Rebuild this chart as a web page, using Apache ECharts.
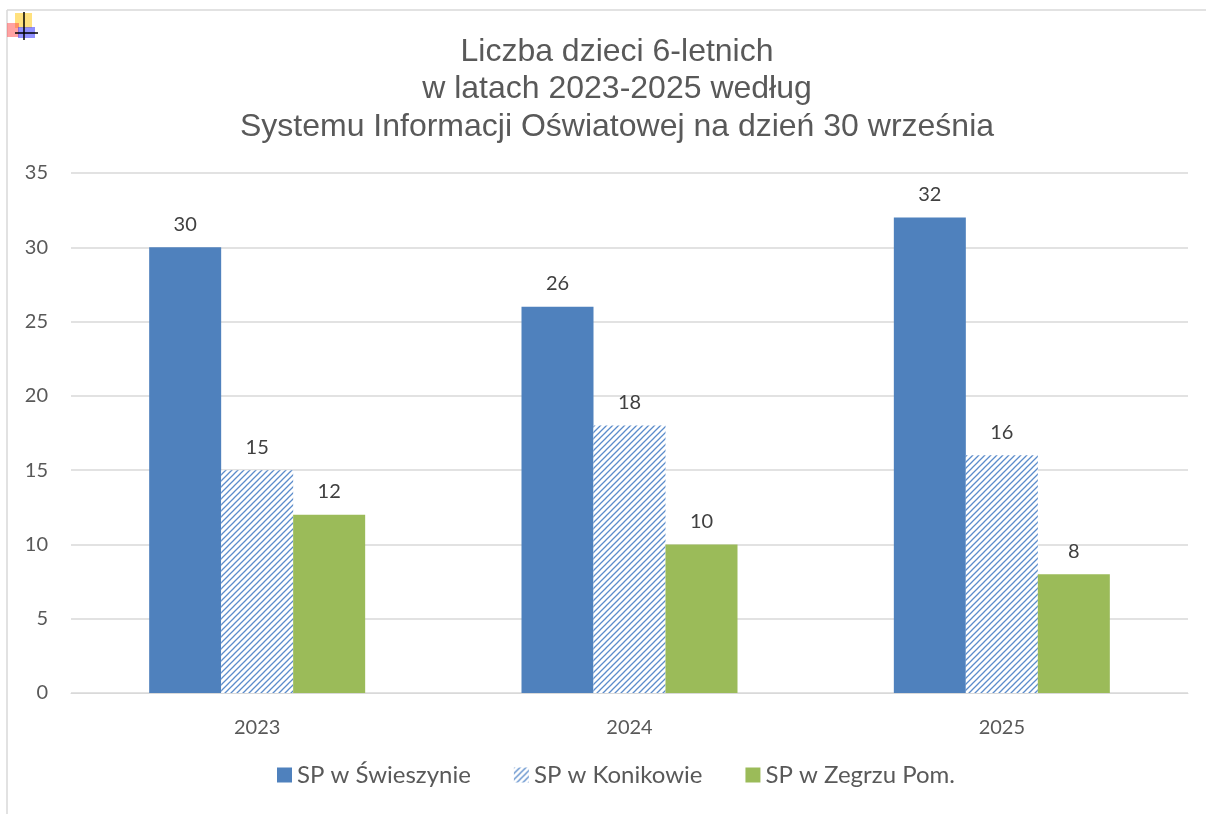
<!DOCTYPE html>
<html>
<head>
<meta charset="utf-8">
<script src="https://cdn.jsdelivr.net/npm/echarts@6/dist/echarts.min.js"></script>
<style>
  html, body { margin: 0; padding: 0; background: #fff; }
  #main { width: 1206px; height: 814px; }
</style>
</head>
<body>
<div id="main"></div>
<script>
// dane
var years = ['2023', '2024', '2025'];
var seriesNames = ['SP w Świeszynie', 'SP w Konikowie', 'SP w Zegrzu Pom.'];
var swieszyno = [30, 26, 32];
var konikowo = [15, 18, 16];
var zegrze = [12, 10, 8];

var myChart = echarts.init(document.getElementById('main'));

// kreskowanie dla drugiej serii
function hatch() {
  var c = document.createElement('canvas');
  c.width = 6;
  c.height = 6;
  var ctx = c.getContext('2d');
  ctx.fillStyle = '#ffffff';
  ctx.fillRect(0, 0, 6, 6);
  ctx.strokeStyle = '#5b8ccb';
  ctx.lineWidth = 1.3;
  ctx.beginPath();
  ctx.moveTo(-1, 7); ctx.lineTo(7, -1);
  ctx.moveTo(-1, 1); ctx.lineTo(1, -1);
  ctx.moveTo(5, 7); ctx.lineTo(7, 5);
  ctx.stroke();
  return c;
}
var hatchFill = { image: hatch(), repeat: 'repeat' };

var labelStyle = {
  show: true,
  position: 'top',
  distance: 13,
  color: '#404040',
  fontSize: 20,
  fontFamily: 'Lato'
};

var option = {
  backgroundColor: '#fff',
  animation: false,
  title: {
    text: 'Liczba dzieci 6-letnich\nw latach 2023-2025 według\nSystemu Informacji Oświatowej na dzień 30 września',
    left: 612,
    textAlign: 'center',
    top: 28,
    textStyle: {
      color: '#595959',
      fontSize: 32,
      fontWeight: 'normal',
      fontFamily: 'Liberation Sans',
      lineHeight: 37.5
    }
  },
  legend: {
    bottom: 22,
    left: 272,
    itemWidth: 15,
    itemHeight: 15,
    itemGap: 43,
    icon: 'rect',
    textStyle: { color: '#595959', fontSize: 24, fontFamily: 'Lato' },
    data: seriesNames
  },
  grid: { left: 71, right: 18, top: 173, bottom: 121 },
  xAxis: {
    type: 'category',
    data: years,
    axisLine: { lineStyle: { color: '#d9d9d9', width: 1 } },
    axisTick: { show: false },
    axisLabel: { color: '#595959', fontSize: 20, fontFamily: 'Lato', margin: 25 }
  },
  yAxis: {
    type: 'value',
    min: 0,
    max: 35,
    interval: 5,
    axisLine: { show: false },
    axisTick: { show: false },
    axisLabel: { color: '#595959', fontSize: 20, fontFamily: 'Lato', margin: 23 },
    splitLine: { lineStyle: { color: '#d9d9d9', width: 1.5 } }
  },
  series: [{
    name: seriesNames[0],
    type: 'bar',
    data: swieszyno,
    barWidth: 72,
    barGap: '0%',
    itemStyle: { color: '#4f81bd' },
    label: labelStyle
  }, {
    name: seriesNames[1],
    type: 'bar',
    data: konikowo,
    barWidth: 72,
    barGap: '0%',
    itemStyle: { color: hatchFill },
    label: labelStyle
  }, {
    name: seriesNames[2],
    type: 'bar',
    data: zegrze,
    barWidth: 72,
    barGap: '0%',
    itemStyle: { color: '#9bbb59' },
    label: labelStyle
  }],
  graphic: [
    // ramka wykresu
    { type: 'line', shape: { x1: 7, y1: 10, x2: 1206, y2: 10 }, style: { stroke: '#d9d9d9', lineWidth: 1.5 } },
    { type: 'line', shape: { x1: 7, y1: 10, x2: 7, y2: 814 }, style: { stroke: '#d9d9d9', lineWidth: 1.5 } },
    // ikonka w rogu
    { type: 'rect', shape: { x: 15, y: 13, width: 17, height: 15 }, style: { fill: 'rgba(255,205,40,0.6)' } },
    { type: 'rect', shape: { x: 7, y: 23, width: 12, height: 14 }, style: { fill: 'rgba(255,70,70,0.5)' } },
    { type: 'rect', shape: { x: 18, y: 27, width: 17, height: 11 }, style: { fill: 'rgba(70,70,255,0.6)' } },
    { type: 'line', shape: { x1: 24, y1: 12, x2: 24, y2: 40 }, style: { stroke: '#000', lineWidth: 1.5 } },
    { type: 'line', shape: { x1: 15, y1: 33, x2: 38, y2: 33 }, style: { stroke: '#000', lineWidth: 1.5 } }
  ]
};

myChart.setOption(option);
</script>
</body>
</html>
